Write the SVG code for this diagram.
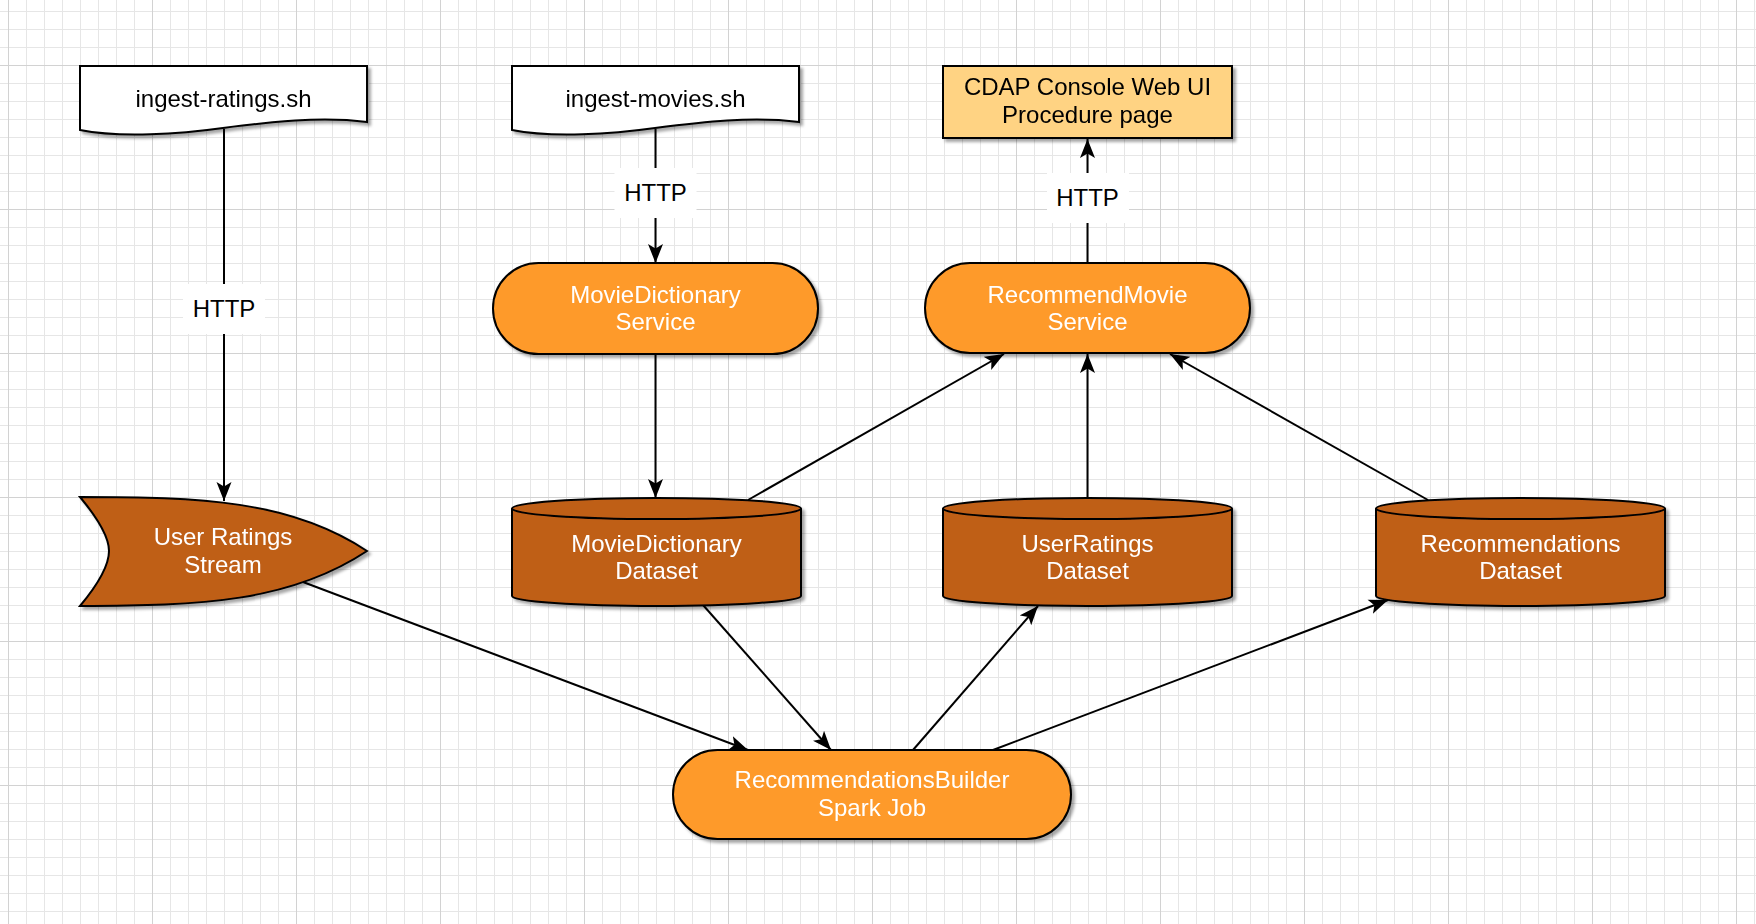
<svg xmlns="http://www.w3.org/2000/svg" width="1756" height="924" viewBox="0 0 1756 924">
  <defs>
    <pattern id="grid" x="8" y="65" width="144" height="144" patternUnits="userSpaceOnUse">
      <path d="M18.5,0V144M36.5,0V144M54.5,0V144M72.5,0V144M90.5,0V144M108.5,0V144M126.5,0V144M0,18.5H144M0,36.5H144M0,54.5H144M0,72.5H144M0,90.5H144M0,108.5H144M0,126.5H144" stroke="#e6e6e6" stroke-width="1" fill="none"/>
      <path d="M0.5,0V144M0,0.5H144" stroke="#d2d2d2" stroke-width="1" fill="none"/>
    </pattern>
    <filter id="shadow" x="-10%" y="-20%" width="120%" height="150%">
      <feDropShadow dx="3" dy="3" stdDeviation="1.8" flood-color="#000" flood-opacity="0.35"/>
    </filter>
    <marker id="arrow" viewBox="0 0 20 16" markerWidth="20" markerHeight="16" refX="19" refY="8" orient="auto" markerUnits="userSpaceOnUse">
      <path d="M0,0.5 L19,8 L0,15.5 L4.5,8 Z" fill="#000"/>
    </marker>
    <symbol id="cyl" overflow="visible">
      <path d="M0,10.5 V98 A144.5,10 0 0 0 289,98 V10.5 A144.5,10.5 0 0 0 0,10.5 Z" class="dark"/>
      <path d="M0,10.5 A144.5,10.5 0 0 0 289,10.5" fill="none" stroke="#000" stroke-width="2"/>
    </symbol>
  </defs>
  <style>
    text { font-family: "Liberation Sans", Arial, Helvetica, sans-serif; font-size: 24px; text-anchor: middle; }
    .w { fill: #ffffff; }
    .b { fill: #000000; }
    .orange { fill: #fe9a2a; stroke: #000; stroke-width: 2; }
    .dark { fill: #bf5f19; stroke: #000; stroke-width: 2; }
    .doc { fill: #ffffff; stroke: #000; stroke-width: 2; }
    .light { fill: #ffd383; stroke: #000; stroke-width: 2; }
    .edge { fill: none; stroke: #000; stroke-width: 2; marker-end: url(#arrow); }
    .lbl { fill: #ffffff; }
  </style>

  <rect x="0" y="0" width="1756" height="924" fill="#ffffff"/>
  <rect x="0" y="0" width="1756" height="924" fill="url(#grid)"/>

  <g id="connectors">
    <path class="edge" d="M224,129 L224,501"/>
    <path class="edge" d="M655.5,129 L655.5,263"/>
    <path class="edge" d="M1087.5,263 L1087.5,139"/>
    <path class="edge" d="M655.5,354 L655.5,498"/>
    <path class="edge" d="M748,500 L1004,354"/>
    <path class="edge" d="M1087.5,498 L1087.5,354"/>
    <path class="edge" d="M1428,500 L1170,354"/>
    <path class="edge" d="M303,582 L748,750"/>
    <path class="edge" d="M703,605 L831,750"/>
    <path class="edge" d="M913,750 L1038,606"/>
    <path class="edge" d="M993,750 L1388,600"/>
    <rect class="lbl" x="183" y="284" width="82" height="50"/>
    <text class="b" x="224" y="317">HTTP</text>
    <rect class="lbl" x="614.5" y="168" width="82" height="50"/>
    <text class="b" x="655.5" y="201">HTTP</text>
    <rect class="lbl" x="1047" y="173" width="82" height="50"/>
    <text class="b" x="1087.5" y="206">HTTP</text>
  </g>

  <g id="ingest-ratings" filter="url(#shadow)">
    <path class="doc" d="M80,66 H367 V122 C320,116 270,122 223,128 C180,134 120,138 80,130 Z"/>
    <text class="b" x="223.5" y="107">ingest-ratings.sh</text>
  </g>

  <g id="ingest-movies" filter="url(#shadow)">
    <path class="doc" d="M512,66 H799 V122 C752,116 702,122 655,128 C612,134 552,138 512,130 Z"/>
    <text class="b" x="655.5" y="107">ingest-movies.sh</text>
  </g>

  <g id="cdap-console" filter="url(#shadow)">
    <rect class="light" x="943" y="66" width="289" height="72"/>
    <text class="b" x="1087.5" y="95">CDAP Console Web UI</text>
    <text class="b" x="1087.5" y="123">Procedure page</text>
  </g>

  <g id="moviedictionary-service" filter="url(#shadow)">
    <rect class="orange" x="493" y="263" width="325" height="91" rx="45.5" ry="45.5"/>
    <text class="w" x="655.5" y="303">MovieDictionary</text>
    <text class="w" x="655.5" y="330">Service</text>
  </g>

  <g id="recommendmovie-service" filter="url(#shadow)">
    <rect class="orange" x="925" y="263" width="325" height="90" rx="45" ry="45"/>
    <text class="w" x="1087.5" y="303">RecommendMovie</text>
    <text class="w" x="1087.5" y="330">Service</text>
  </g>

  <g id="user-ratings-stream" filter="url(#shadow)">
    <path class="dark" d="M80,497 C200,497 290,500 367,551 C290,602 200,606 80,606 C95,588 109,567 109,551 C109,535 95,515 80,497 Z"/>
    <text class="w" x="223" y="545">User Ratings</text>
    <text class="w" x="223" y="573">Stream</text>
  </g>

  <g id="moviedictionary-dataset" filter="url(#shadow)">
    <use href="#cyl" x="512" y="498"/>
    <text class="w" x="656.5" y="552">MovieDictionary</text>
    <text class="w" x="656.5" y="579">Dataset</text>
  </g>

  <g id="userratings-dataset" filter="url(#shadow)">
    <use href="#cyl" x="943" y="498"/>
    <text class="w" x="1087.5" y="552">UserRatings</text>
    <text class="w" x="1087.5" y="579">Dataset</text>
  </g>

  <g id="recommendations-dataset" filter="url(#shadow)">
    <use href="#cyl" x="1376" y="498"/>
    <text class="w" x="1520.5" y="552">Recommendations</text>
    <text class="w" x="1520.5" y="579">Dataset</text>
  </g>

  <g id="recommendationsbuilder-spark-job" filter="url(#shadow)">
    <rect class="orange" x="673" y="750" width="398" height="89" rx="44.5" ry="44.5"/>
    <text class="w" x="872" y="788">RecommendationsBuilder</text>
    <text class="w" x="872" y="816">Spark Job</text>
  </g>
</svg>
